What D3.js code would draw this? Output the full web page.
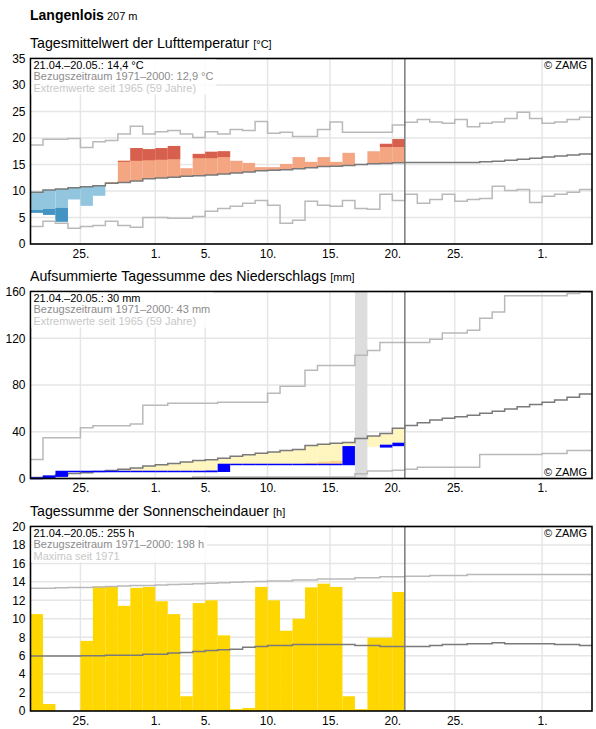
<!DOCTYPE html>
<head>
  <meta charset="utf-8">
  <script src="https://d3js.org/d3.v7.min.js"></script>
  <style>
    body { margin: 0; background: #fff; }
    svg { display: block; font-family: "Liberation Sans", Arial, sans-serif; }
  </style>
</head>
<body>
  <svg width="596" height="729"></svg>
  <script>
    // ---- data ----
    var startDay = new Date(Date.UTC(2024, 3, 21));
    var endDay = new Date(Date.UTC(2024, 5, 5));
    var todayMark = new Date(Date.UTC(2024, 4, 21));
    var days = d3.utcDay.range(startDay, endDay); // 21.04. - 04.06.

    var xTickDates = ["2024-04-25", "2024-05-01", "2024-05-05", "2024-05-10",
                      "2024-05-15", "2024-05-20", "2024-05-25", "2024-06-01"];
    var xTickLabels = ["25.", "1.", "5.", "10.", "15.", "20.", "25.", "1."];

    var tempTicks = [0, 5, 10, 15, 20, 25, 30, 35];
    var precipTicks = [0, 40, 80, 120, 160];
    var sunTicks = [0, 2, 4, 6, 8, 10, 12, 14, 16, 18, 20];

    // temperature (°C)
    var tempObs = [5.9, 5.5, 4.2, 8.4, 7.2, 9.1, 11.7, 15.7, 18.1, 17.9,
                   18.1, 18.5, 14.3, 17.0, 17.4, 17.5, 15.7, 15.3, 14.5, 14.5,
                   15.1, 16.4, 15.5, 16.4, 15.5, 17.2, 15.0, 17.5, 18.9, 19.8];
    var tempHighThr = [13.3, 13.7, 14.0, 14.2, 14.5, 14.8, 15.2, 15.5, 15.7, 15.8,
                       15.9, 16.0, 16.1, 16.2, 16.2, 16.4, 16.6, 16.8, 17.0, 17.1,
                       17.3, 17.4, 17.5, 17.7, 17.8, 17.9, 18.0, 18.1, 18.3, 18.3];
    var tempLowThr = [6.4, 6.6, 6.8, 7.0, 7.1, 7.3, 7.7, 7.9, 8.1, 8.5,
                      8.6, 8.8, 9.0, 9.1, 9.2, 9.4, 9.6, 9.8, 10.0, 10.1,
                      10.2, 10.4, 10.6, 10.7, 10.9, 11.0, 11.2, 11.3, 11.4, 11.6];
    var tempClim = [9.75, 10.2, 10.4, 10.6, 10.8, 11.0, 11.45, 11.6, 11.9, 12.3,
                    12.45, 12.6, 12.8, 12.9, 13.0, 13.2, 13.4, 13.6, 13.8, 13.9,
                    14.0, 14.2, 14.4, 14.6, 14.65, 14.8, 15.0, 15.15, 15.2, 15.35,
                    15.4, 15.4, 15.4, 15.4, 15.4, 15.4, 15.5, 15.6, 15.8, 16.0,
                    16.2, 16.4, 16.6, 16.8, 17.0];
    var tempMax = [18.7, 19.75, 19.75, 19.9, 18.2, 19.3, 19.55, 20.75, 22.2, 20.75,
                   21.2, 21.4, 20.75, 20.1, 21.2, 20.75, 21.6, 21.4, 23.1, 20.9,
                   21.1, 20.3, 20.3, 21.6, 23.0, 21.1, 21.1, 21.1, 21.1, 22.45,
                   22.95, 23.5, 23.0, 22.8, 23.5, 22.1, 22.8, 23.0, 23.7, 24.85,
                   23.7, 22.8, 23.0, 23.5, 23.9];
    var tempMin = [3.3, 4.3, 3.9, 2.95, 3.3, 3.5, 4.3, 3.5, 3.15, 5.0,
                   5.0, 4.85, 4.85, 5.2, 6.2, 6.7, 7.1, 7.7, 8.2, 7.3,
                   3.9, 4.5, 8.05, 7.3, 7.1, 8.2, 6.7, 6.55, 9.4, 8.2,
                   9.4, 7.7, 8.4, 9.4, 8.05, 8.4, 8.6, 10.9, 10.1, 10.3,
                   7.85, 9.0, 9.4, 9.75, 10.3];

    // precipitation, accumulated (mm); null = missing day
    var precipObs = [0.3, 2.0, 6.0, 6.0, 6.0, 6.0, 6.0, 6.0, 6.0, 6.0,
                     6.0, 6.0, 6.0, 6.0, 6.2, 12.0, 12.0, 12.0, 12.0, 12.0,
                     12.0, 12.0, 12.0, 12.0, 12.0, 27.1, null, null, 28.3, 30.0];
    var precipDryThr = [0, 0, 0, 0.5, 0.8, 1.1, 1.5, 1.9, 2.3, 2.8,
                        3.3, 3.8, 4.3, 4.8, 5.4, 6.0, 6.7, 7.4, 8.2, 9.0,
                        10.0, 11.0, 13.3, 14.3, 15.1, 16.0, 17.0, 18.0, 19.0, 20.0];
    var precipClim = [0.9, 1.7, 2.9, 4.3, 5.0, 6.0, 6.9, 7.9, 9.0, 10.6,
                      11.8, 12.9, 14.2, 15.3, 16.1, 17.3, 19.0, 20.4, 21.6, 22.7,
                      23.9, 24.9, 28.3, 29.2, 30.1, 30.9, 34.2, 36.3, 38.6, 42.9,
                      45.4, 47.7, 50.0, 51.5, 52.8, 54.2, 55.8, 57.6, 59.5, 61.3,
                      63.3, 65.3, 67.2, 69.5, 72.2];
    var precipMax = [16.3, 34.8, 34.8, 34.8, 43.4, 45.1, 45.1, 45.1, 46.6, 62.6,
                     62.6, 64.3, 64.3, 64.3, 64.3, 65.2, 65.2, 65.2, 65.2, 72.9,
                     78.9, 78.9, 92.6, 96.6, 96.6, 96.6, 105.5, 109.5, 116.3, 116.3,
                     116.3, 116.3, 119.2, 124.4, 124.4, 126.9, 137.2, 142.4, 156.3, 156.3,
                     156.3, 156.3, 156.3, 158.3, 159.5];
    var precipMin = [0, 0, 0, 0, 0, 0, 0, 0, 0, 0,
                     0, 0, 0, 1.2, 1.2, 1.2, 1.2, 1.2, 1.2, 1.2,
                     1.2, 1.2, 1.2, 1.2, 1.2, 1.2, 4.0, 6.5, 6.5, 7.0,
                     8.0, 9.7, 9.7, 9.7, 9.7, 9.7, 20.6, 20.6, 20.6, 20.6,
                     20.6, 21.4, 21.4, 24.0, 24.0];

    // sunshine duration (h)
    var sunObs = [10.5, 0.76, 0, 0, 7.6, 13.5, 13.5, 11.4, 13.35, 13.45,
                  11.9, 10.5, 1.6, 11.7, 12.0, 8.2, 0.2, 0.33, 13.45, 12.0,
                  8.7, 10.0, 13.4, 13.8, 13.45, 1.6, 0.2, 7.95, 7.95, 12.9];
    var sunClim = [5.97, 5.97, 5.97, 5.97, 6.0, 6.0, 6.05, 6.05, 6.05, 6.15,
                   6.15, 6.3, 6.35, 6.45, 6.55, 6.65, 6.7, 6.9, 7.0, 7.1,
                   7.1, 7.2, 7.2, 7.2, 7.2, 7.2, 7.1, 7.1, 7.0, 7.0,
                   7.0, 7.0, 7.1, 7.2, 7.2, 7.3, 7.3, 7.4, 7.3, 7.3,
                   7.3, 7.3, 7.2, 7.2, 7.1];
    var sunMax = [13.3, 13.3, 13.35, 13.4, 13.4, 13.45, 13.5, 13.55, 13.6, 13.6,
                  13.65, 13.7, 13.75, 13.8, 13.85, 13.9, 13.95, 14.0, 14.05, 14.1,
                  14.1, 14.2, 14.2, 14.3, 14.3, 14.3, 14.45, 14.45, 14.55, 14.55,
                  14.6, 14.6, 14.7, 14.7, 14.7, 14.8, 14.8, 14.8, 14.8, 14.8,
                  14.8, 14.8, 14.8, 14.8, 14.8];

    // ---- drawing ----
    var svg = d3.select('svg');
    var left = 30.5, right = 592;
    var x = d3.scaleUtc().domain([startDay, endDay]).range([left, right]);
    var dayEnd = function(i) { return d3.utcDay.offset(days[i], 1); };

    var darkGray = '#7a7a7a', lightGray = '#b9b9b9', gridColor = '#e6e6e6';

    svg.append('text').attr('x', 30).attr('y', 20)
      .style('font-size', '14px').style('font-weight', 'bold')
      .text('Langenlois')
      .append('tspan').attr('dx', 3).style('font-weight', 'normal').style('font-size', '11px')
      .text('207 m');

    function panel(opts) {
      var g = svg.append('g');
      var y = d3.scaleLinear().domain(opts.domain).range([opts.bottom, opts.top]);

      g.append('text').attr('x', 30).attr('y', opts.top - 10.5)
        .style('font-size', '14.2px').text(opts.title)
        .append('tspan').attr('dx', 4).style('font-size', '11px').text(opts.unit);

      // grid
      g.selectAll('line.hg').data(opts.ticks.slice(1)).enter().append('line')
        .attr('x1', left).attr('x2', right)
        .attr('y1', function(d) { return y(d); }).attr('y2', function(d) { return y(d); })
        .attr('stroke', gridColor).attr('stroke-width', 1.5);
      g.selectAll('line.vg').data(xTickDates).enter().append('line')
        .attr('x1', function(d) { return x(new Date(d)); })
        .attr('x2', function(d) { return x(new Date(d)); })
        .attr('y1', opts.top).attr('y2', opts.bottom)
        .attr('stroke', gridColor).attr('stroke-width', 1.5);

      // axes
      var yAxis = d3.axisLeft(y).tickValues(opts.ticks).tickSize(0).tickPadding(5);
      var ya = g.append('g').attr('transform', 'translate(' + left + ',0)').call(yAxis);
      ya.select('.domain').remove();
      ya.selectAll('text').style('font-size', '12px').attr('fill', '#000')
        .style('font-family', '"Liberation Sans", Arial, sans-serif');

      var xAxis = d3.axisBottom(x)
        .tickValues(xTickDates.map(function(d) { return new Date(d); }))
        .tickFormat(function(d, i) { return xTickLabels[i]; })
        .tickSize(0).tickPadding(5);
      var xa = g.append('g').attr('transform', 'translate(0,' + opts.bottom + ')').call(xAxis);
      xa.select('.domain').remove();
      xa.selectAll('text').style('font-size', '12px').attr('fill', '#000')
        .style('font-family', '"Liberation Sans", Arial, sans-serif');

      var marks = g.append('g');
      var over = g.append('g');
      return { g: g, y: y, marks: marks, over: over, opts: opts };
    }

    function stepLine(p, values, color) {
      var pts = values.map(function(v, i) { return { d: days[i], v: v }; });
      pts.push({ d: dayEnd(values.length - 1), v: values[values.length - 1] });
      var line = d3.line()
        .x(function(d) { return x(d.d); })
        .y(function(d) { return p.y(d.v); })
        .curve(d3.curveStepAfter);
      p.marks.append('path').datum(pts)
        .attr('d', line).attr('fill', 'none')
        .attr('stroke', color).attr('stroke-width', 1.5);
    }

    function finish(p, lines, zampBottom) {
      var o = p.opts;
      // today marker
      p.over.append('line')
        .attr('x1', x(todayMark)).attr('x2', x(todayMark))
        .attr('y1', o.top).attr('y2', o.bottom)
        .attr('stroke', darkGray).attr('stroke-width', 1.5);
      // frame
      p.over.append('rect')
        .attr('x', left).attr('y', o.top)
        .attr('width', right - left).attr('height', o.bottom - o.top)
        .attr('fill', 'none').attr('stroke', '#000').attr('stroke-width', 1.6);

      // legend text with light background
      var bg = p.over.append('rect').attr('fill', '#fff').attr('fill-opacity', 0.85);
      var colors = ['#000', '#8c8c8c', '#c8c8c8'];
      var maxW = 0;
      lines.forEach(function(t, i) {
        var tx = p.over.append('text').attr('x', 33.5).attr('y', o.top + 10 + i * 11.5)
          .style('font-size', '11px').attr('fill', colors[i]).text(t);
        maxW = Math.max(maxW, tx.node().getComputedTextLength());
      });
      bg.attr('x', left + 1).attr('y', o.top + 1)
        .attr('width', maxW + 5).attr('height', 35);

      var zy = zampBottom ? o.bottom - 3 : o.top + 10;
      p.over.append('text').attr('x', 587).attr('y', zy)
        .attr('text-anchor', 'end').style('font-size', '11px').attr('fill', '#000')
        .text('\u00a9 ZAMG');
    }

    // ---- panel 1: temperature ----
    var p1 = panel({ top: 58.5, bottom: 244, domain: [0, 35], ticks: tempTicks,
                     title: 'Tagesmittelwert der Lufttemperatur', unit: '[°C]' });
    tempObs.forEach(function(v, i) {
      var c = tempClim[i];
      var x0 = x(days[i]), x1 = x(dayEnd(i));
      var above = v >= c;
      p1.marks.append('rect')
        .attr('x', x0).attr('width', x1 - x0)
        .attr('y', p1.y(Math.max(v, c))).attr('height', Math.abs(p1.y(v) - p1.y(c)))
        .attr('fill', above ? '#f4a582' : '#92c5de');
      if (above && v > tempHighThr[i]) {
        p1.marks.append('rect')
          .attr('x', x0).attr('width', x1 - x0)
          .attr('y', p1.y(v)).attr('height', p1.y(tempHighThr[i]) - p1.y(v))
          .attr('fill', '#d6604d');
      }
      if (!above && v < tempLowThr[i]) {
        p1.marks.append('rect')
          .attr('x', x0).attr('width', x1 - x0)
          .attr('y', p1.y(tempLowThr[i])).attr('height', p1.y(v) - p1.y(tempLowThr[i]))
          .attr('fill', '#4393c3');
      }
    });
    stepLine(p1, tempMax, lightGray);
    stepLine(p1, tempMin, lightGray);
    stepLine(p1, tempClim, darkGray);
    finish(p1, ['21.04.\u201320.05.: 14,4 °C', 'Bezugszeitraum 1971\u20132000: 12,9 °C',
                'Extremwerte seit 1965 (59 Jahre)'], false);

    // ---- panel 2: precipitation ----
    var p2 = panel({ top: 291.5, bottom: 478.5, domain: [0, 160], ticks: precipTicks,
                     title: 'Aufsummierte Tagessumme des Niederschlags', unit: '[mm]' });
    var lastObs = 0;
    precipObs.forEach(function(v, i) {
      var cur = v === null ? lastObs : v;
      var c = precipClim[i];
      var x0 = x(days[i]), x1 = x(dayEnd(i));
      if (cur < c) {
        p2.marks.append('rect').attr('x', x0).attr('width', x1 - x0)
          .attr('y', p2.y(c)).attr('height', p2.y(cur) - p2.y(c))
          .attr('fill', '#fff5bf');
      }
      if (cur < precipDryThr[i]) {
        p2.marks.append('rect').attr('x', x0).attr('width', x1 - x0)
          .attr('y', p2.y(precipDryThr[i])).attr('height', p2.y(cur) - p2.y(precipDryThr[i]))
          .attr('fill', '#fdd08c');
      }
      lastObs = cur;
    });
    // missing day column
    precipObs.forEach(function(v, i) {
      if (v === null && (i === 0 || precipObs[i - 1] !== null)) {
        p2.marks.append('rect').attr('x', x(days[i])).attr('width', x(dayEnd(i)) - x(days[i]))
          .attr('y', p2.opts.top).attr('height', p2.opts.bottom - p2.opts.top)
          .attr('fill', '#dddddd');
      }
    });
    stepLine(p2, precipMax, lightGray);
    stepLine(p2, precipMin, lightGray);
    stepLine(p2, precipClim, darkGray);
    var prev = 0;
    precipObs.forEach(function(v, i) {
      if (v === null) return;
      var x0 = x(days[i]), x1 = x(dayEnd(i));
      var yTop = p2.y(v) - 0.75, yBot = Math.max(p2.y(prev) + 0.75, p2.y(v) + 0.75);
      p2.marks.append('rect').attr('x', x0).attr('width', x1 - x0)
        .attr('y', yTop).attr('height', yBot - yTop)
        .attr('fill', '#0000ff');
      prev = v;
    });
    finish(p2, ['21.04.\u201320.05.: 30 mm', 'Bezugszeitraum 1971\u20132000: 43 mm',
                'Extremwerte seit 1965 (59 Jahre)'], true);

    // ---- panel 3: sunshine ----
    var p3 = panel({ top: 526.5, bottom: 711, domain: [0, 20], ticks: sunTicks,
                     title: 'Tagessumme der Sonnenscheindauer', unit: '[h]' });
    p3.marks.selectAll('rect.sun').data(sunObs).enter().append('rect')
      .attr('x', function(d, i) { return x(days[i]); })
      .attr('width', function(d, i) { return x(dayEnd(i)) - x(days[i]); })
      .attr('y', function(d) { return p3.y(d); })
      .attr('height', function(d) { return p3.y(0) - p3.y(d); })
      .attr('fill', '#ffd700');
    stepLine(p3, sunMax, lightGray);
    stepLine(p3, sunClim, darkGray);
    finish(p3, ['21.04.\u201320.05.: 255 h', 'Bezugszeitraum 1971\u20132000: 198 h',
                'Maxima seit 1971'], false);
  </script>
</body>
